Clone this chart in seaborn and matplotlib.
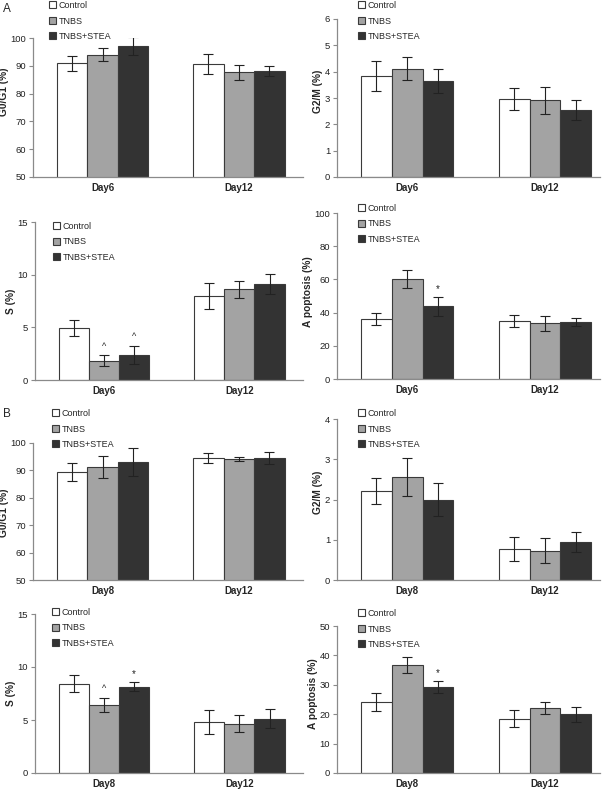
import numpy as np
import pandas as pd
import matplotlib
matplotlib.use("Agg")
import matplotlib.pyplot as plt
import seaborn as sns

sns.set_theme(style="white")
plt.rcParams['font.family'] = ['Liberation Sans', 'DejaVu Sans']

groups = ["Control", "TNBS", "TNBS+STEA"]
colors = ["#ffffff", "#a3a3a3", "#333333"]

# panel A (Day6 / Day12)
days_a = ["Day6", "Day12"]
g01_a = [[91.0, 90.7], [94.0, 87.6], [97.2, 88.2]]
g01_a_err = [[2.7, 3.5], [2.4, 2.8], [3.2, 1.8]]
g2m_a = [[3.83, 2.97], [4.11, 2.91], [3.65, 2.54]]
g2m_a_err = [[0.57, 0.41], [0.43, 0.52], [0.47, 0.38]]
s_a = [[4.96, 7.96], [1.83, 8.6], [2.4, 9.1]]
s_a_err = [[0.78, 1.23], [0.5, 0.77], [0.84, 0.93]]
apo_a = [[36.1, 35.1], [60.2, 33.5], [43.8, 34.5]]
apo_a_err = [[3.8, 3.6], [5.4, 4.7], [5.6, 2.3]]

# panel B (Day8 / Day12)
days_b = ["Day8", "Day12"]
g01_b = [[89.4, 94.5], [91.3, 94.1], [93.1, 94.4]]
g01_b_err = [[3.4, 1.9], [4.1, 0.8], [5.0, 2.2]]
g2m_b = [[2.22, 0.77], [2.55, 0.73], [2.0, 0.95]]
g2m_b_err = [[0.32, 0.29], [0.47, 0.31], [0.41, 0.25]]
s_b = [[8.41, 4.79], [6.4, 4.66], [8.16, 5.1]]
s_b_err = [[0.79, 1.13], [0.68, 0.82], [0.44, 0.9]]
apo_b = [[24.1, 18.5], [36.6, 22.2], [29.3, 20.0]]
apo_b_err = [[2.95, 2.9], [2.7, 2.0], [2.05, 2.55]]

# significance marks: (group index, day index, symbol)
s_a_marks = [(1, 0, "^"), (2, 0, "^")]
apo_a_marks = [(2, 0, "*")]
s_b_marks = [(1, 0, "^"), (2, 0, "*")]
apo_b_marks = [(2, 0, "*")]

W, H = 608, 792
fig = plt.figure(figsize=(W / 100, H / 100), dpi=100)


def px_axes(l, t, r, b):
    return fig.add_axes([l / W, 1 - b / H, (r - l) / W, (b - t) / H])


def panel(box, days, vals, errs, ylabel, ylim, yticks, xlim, leg_xy,
          marks=(), label_y=0.5):
    ax = px_axes(*box)
    rows = []
    for g, gv in zip(groups, vals):
        for d, v in zip(days, gv):
            rows.append({"day": d, "group": g, "value": v})
    df = pd.DataFrame(rows)
    sns.barplot(data=df, x="day", y="value", hue="group", hue_order=groups,
                palette=colors, width=0.67, gap=0, errorbar=None,
                edgecolor="#3a3a3a", linewidth=0.8, saturation=1,
                legend=False, ax=ax)
    bars = list(ax.containers)
    for gi, cont in enumerate(bars):
        for di, bar in enumerate(cont.patches):
            cx = bar.get_x() + bar.get_width() / 2
            ax.errorbar(cx, vals[gi][di], yerr=errs[gi][di], fmt="none",
                        ecolor="#222222", elinewidth=0.8, capsize=3.5,
                        capthick=0.8, zorder=5)
    span = ylim[1] - ylim[0]
    for gi, di, sym in marks:
        bar = bars[gi].patches[di]
        cx = bar.get_x() + bar.get_width() / 2
        top = vals[gi][di] + errs[gi][di]
        if sym == "^":
            ax.text(cx, top + span * 0.03, "^", ha="center", va="bottom",
                    fontsize=6.5, color="#222222")
        else:
            ax.text(cx, top + span * 0.02, "*", ha="center", va="bottom",
                    fontsize=7, color="#222222")
    ax.set_ylim(*ylim)
    ax.set_yticks(yticks)
    ax.set_xlim(*xlim)
    ax.set_xlabel("")
    ax.set_ylabel(ylabel, fontsize=7.3, fontweight="bold", labelpad=1)
    ax.yaxis.label.set_y(label_y)
    for sp in ["top", "right"]:
        ax.spines[sp].set_visible(False)
    for sp in ["left", "bottom"]:
        ax.spines[sp].set_color("#8a8a8a")
        ax.spines[sp].set_linewidth(0.9)
    ax.tick_params(axis="y", left=True, length=3, width=0.8, color="#8a8a8a",
                   labelsize=6.8, pad=2, labelcolor="#222222")
    ax.tick_params(axis="x", bottom=False, length=0, labelsize=7, pad=4.5)
    for lab in ax.get_xticklabels():
        lab.set_fontweight("bold")
    handles = [cont.patches[0] for cont in bars]
    ax.legend(handles, groups, loc="upper left",
              bbox_to_anchor=(leg_xy[0] / W, 1 - leg_xy[1] / H),
              bbox_transform=fig.transFigure, frameon=False, fontsize=6.5,
              handlelength=0.8, handleheight=0.8, handletextpad=0.25,
              labelspacing=0.72, borderpad=0, borderaxespad=0)
    return ax


xl_left = (-0.51, 1.47)
xl_right = (-0.51, 1.40)

panel((33, 38, 303, 177), days_a, g01_a, g01_a_err, "G0/G1 (%)",
      (50, 100), [50, 60, 70, 80, 90, 100], xl_left, (49, 1), label_y=0.61)
panel((337, 19, 600, 177), days_a, g2m_a, g2m_a_err, "G2/M (%)",
      (0, 6), [0, 1, 2, 3, 4, 5, 6], xl_right, (358, 1), label_y=0.54)
panel((35, 222, 303, 380), days_a, s_a, s_a_err, "S (%)",
      (0, 15), [0, 5, 10, 15], xl_left, (53, 222), s_a_marks)
panel((337, 213, 600, 379), days_a, apo_a, apo_a_err, "A poptosis (%)",
      (0, 100), [0, 20, 40, 60, 80, 100], xl_right, (358, 204), apo_a_marks,
      label_y=0.525)
panel((33, 443, 303, 580), days_b, g01_b, g01_b_err, "G0/G1 (%)",
      (50, 100), [50, 60, 70, 80, 90, 100], xl_left, (52, 409), label_y=0.49)
panel((337, 419, 600, 580), days_b, g2m_b, g2m_b_err, "G2/M (%)",
      (0, 4), [0, 1, 2, 3, 4], xl_right, (358, 409), label_y=0.547)
panel((35, 614, 303, 773), days_b, s_b, s_b_err, "S (%)",
      (0, 15), [0, 5, 10, 15], xl_left, (52, 608), s_b_marks)
panel((337, 626, 600, 773), days_b, apo_b, apo_b_err, "A poptosis (%)",
      (0, 50), [0, 10, 20, 30, 40, 50], xl_right, (358, 609), apo_b_marks,
      label_y=0.537)

fig.text(3 / W, 1 - 3 / H, "A", fontsize=8.5, va="top", ha="left")
fig.text(3 / W, 1 - 408 / H, "B", fontsize=8.5, va="top", ha="left")

fig.savefig("out.png", dpi=100)
